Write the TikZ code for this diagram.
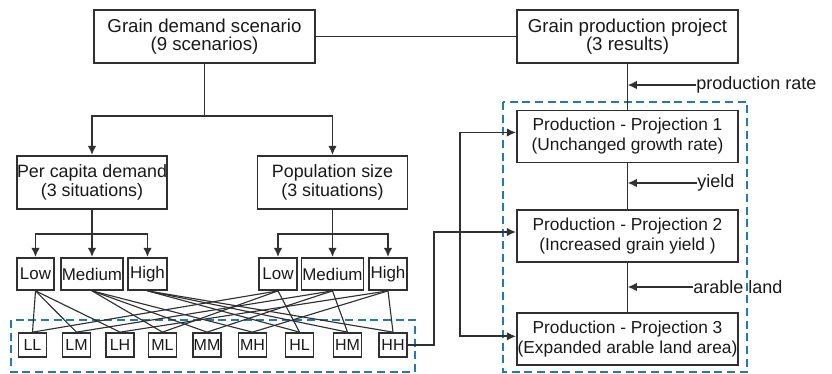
\documentclass[tikz,border=0pt]{standalone}
\usepackage{fontspec}
\setmainfont{Liberation Sans}
\usetikzlibrary{positioning, calc, arrows.meta}
\definecolor{lnc}{HTML}{303030}
\definecolor{dashblue}{HTML}{1F7BB0}

\begin{document}
\begin{tikzpicture}[x=0.75pt,y=-0.75pt,
  box/.style={draw=lnc, line width=1.3pt, inner sep=0pt, align=center, text=black!90},
  bigbox/.style={box, minimum width=165.75pt, minimum height=39.75pt, font=\fontsize{14}{13.5}\selectfont},
  projbox/.style={box, minimum width=165.75pt, minimum height=39pt, font=\fontsize{13}{15}\selectfont},
  midbox/.style={box, minimum width=112.5pt, minimum height=39.75pt, font=\fontsize{13.4}{14}\selectfont},
  lvl/.style={box, minimum height=24pt, font=\fontsize{12.7}{12.7}\selectfont},
  scen/.style={box, minimum width=21pt, minimum height=18pt, font=\fontsize{12}{12}\selectfont},
  conn/.style={draw=lnc, line width=1.4pt},
  arr/.style={conn, -{Latex[length=7pt,width=6.5pt]}},
  mixline/.style={draw=lnc, line width=0.85pt},
  grp/.style={draw=dashblue, line width=1.6pt, dash pattern=on 6pt off 3.5pt},
  lbl/.style={anchor=west, inner sep=0pt, text=black!90, font=\fontsize{13.5}{13.5}\selectfont}]

  \useasboundingbox (0,0) rectangle (832,374);

  % demand side
  \node[bigbox] (dem) at (204.5,36.5) {Grain demand scenario\\(9 scenarios)};
  \node[midbox] (pc) at (92,182.5) {Per capita demand\\(3 situations)};
  \node[midbox] (pop) at (332.5,182.5) {Population size\\(3 situations)};

  \node[lvl, minimum width=27.75pt] (pcL) at (35.5,274) {Low};
  \node[lvl, minimum width=46.5pt] (pcM) at (92,274) {Medium};
  \node[lvl, minimum width=29.25pt] (pcH) at (147.5,274) {High};
  \node[lvl, minimum width=28.5pt] (ppL) at (278,274) {Low};
  \node[lvl, minimum width=46.5pt] (ppM) at (332.5,274) {Medium};
  \node[lvl, minimum width=28.5pt] (ppH) at (388,274) {High};

  \foreach \n/\x in {LL/32.5, LM/76.5, LH/120, ML/162.5, MM/207, MH/252.5, HL/299.5, HM/347.5, HH/393}
    \node[scen] (\n) at (\x,345) {\n};

  % production side
  \node[bigbox] (prod) at (627.5,36.5) {Grain production project\\(3 results)};
  \node[projbox] (P1) at (627.5,136.5) {Production - Projection 1\\(Unchanged growth rate)};
  \node[projbox] (P2) at (627.5,236) {Production - Projection 2\\(Increased grain yield )};
  \node[projbox] (P3) at (627.5,339) {Production - Projection 3\\(Expanded arable land area)};

  % groups
  \draw[grp] (11,320) rectangle (415,372);
  \draw[grp] (503,102) rectangle (747,372);

  % tree
  \draw[conn] (dem.east) -- (prod.west);
  \draw[conn] (dem.south) -- ++(0,52) coordinate (demfork);
  \draw[arr] (demfork) -| (pc.north);
  \draw[arr] (demfork) -| (pop.north);

  \draw[conn] (pc.south) -- ++(0,24) coordinate (pcfork);
  \draw[arr] (pcfork) -| (pcL.north);
  \draw[arr] (pcfork) -| (pcH.north);
  \draw[arr] (pcfork) -- (pcM.north);
  \draw[conn] (pop.south) -- ++(0,24) coordinate (popfork);
  \draw[arr] (popfork) -| (ppL.north);
  \draw[arr] (popfork) -| (ppH.north);
  \draw[arr] (popfork) -- (ppM.north);

  % combinations
  \foreach \a in {L,M,H}
    \foreach \b in {L,M,H} {
      \draw[mixline] (pc\a.south) -- (\a\b.north);
      \draw[mixline] (pp\b.south) -- (\a\b.north);
    }

  % link to projections
  \draw[arr] (HH.east) -- ++(26,0) |- ([yshift=3pt]P2.west);
  \draw[conn, {Latex[length=7pt,width=6.5pt]}-{Latex[length=7pt,width=6.5pt]}]
    ([yshift=3pt]P1.west) -- ++(-56,0) |- ([yshift=2pt]P3.west);

  \draw[conn] (prod.south) -- (P1.north);
  \draw[conn] (P1.south) -- (P2.north);
  \draw[conn] (P2.south) -- (P3.north);

  \node[lbl] (rate) at (696,85) {production rate};
  \node[lbl] (yld) at (697,183) {yield};
  \node[lbl] (land) at (693,287) {arable land};
  \draw[arr] (rate.west) -- (rate.west -| prod.south);
  \draw[arr] (yld.west) -- (yld.west -| prod.south);
  \draw[arr] (land.west) -- (land.west -| prod.south);
\end{tikzpicture}
\end{document}
